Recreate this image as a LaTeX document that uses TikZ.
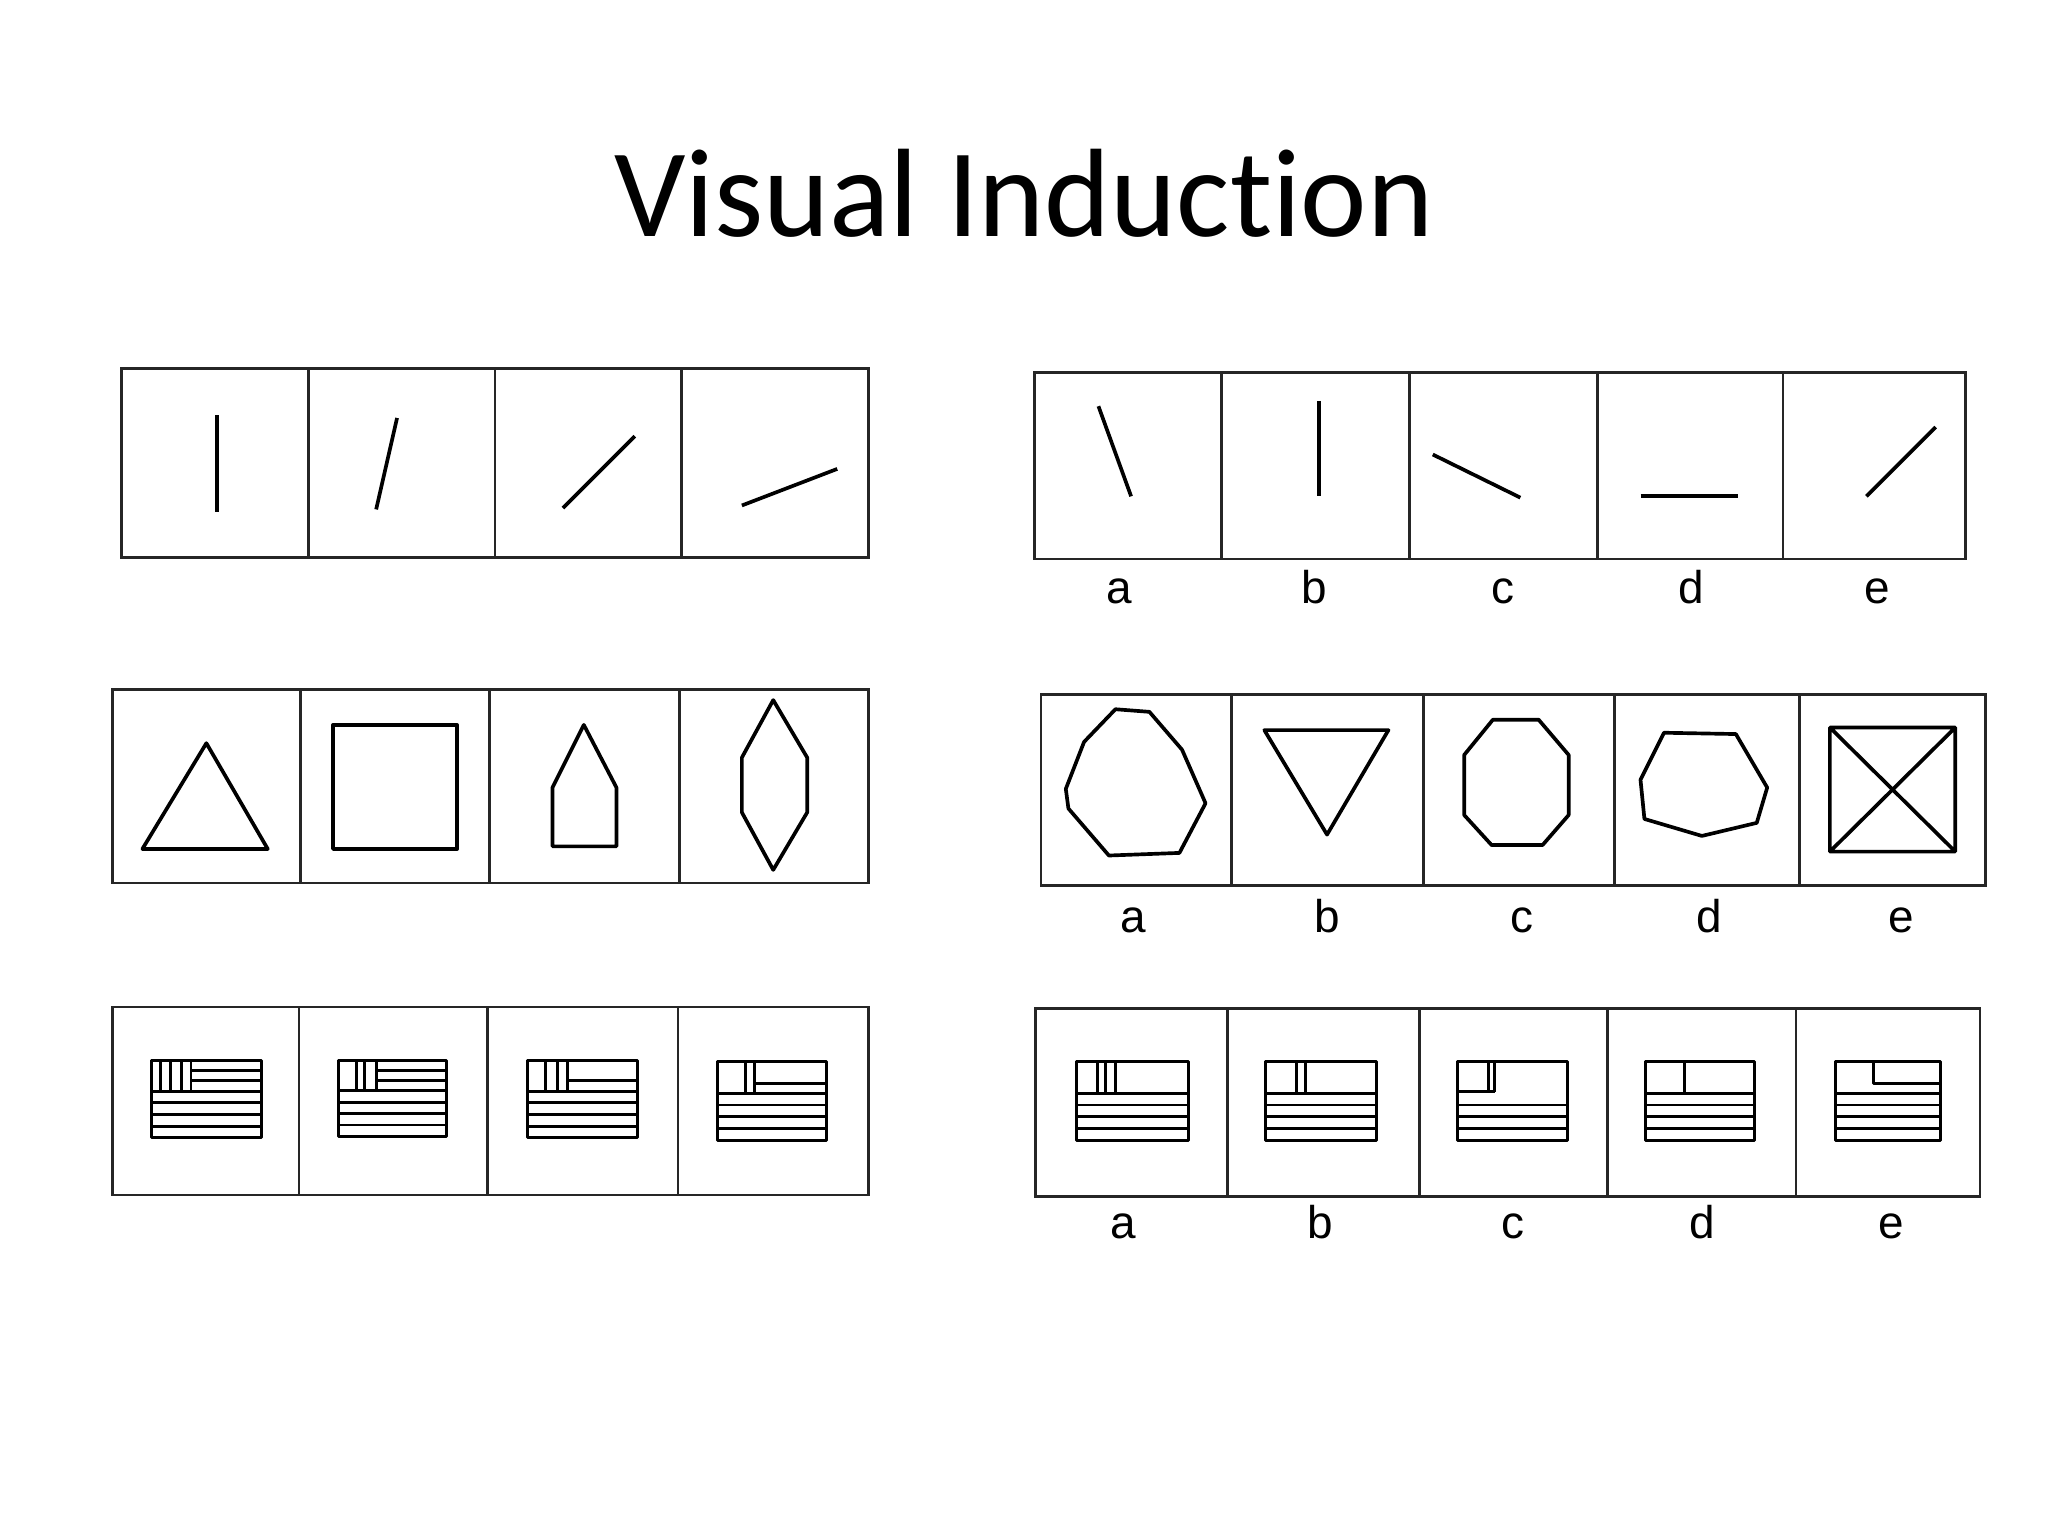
\documentclass[tikz,border=0pt]{standalone}
\usepackage{fontspec}
\setmainfont{Liberation Sans}
\newfontfamily\titlefont[Ligatures={NoCommon}]{Carlito}
\newcommand\flagfull[1]{\draw[fig] (0,0) rectangle (1,1);
  \foreach \yy in {#1} \draw[fig] (0,\yy) -- (1,\yy);}
\begin{document}
\begin{tikzpicture}[x=0.05cm,y=-0.05cm,
  frame/.style={line width=3pt,black!85},
  fig/.style={line width=4pt,line join=round,black},
  flagst/.style={fig/.append style={line width=3.2pt}},
  lbl/.style={anchor=base,font=\fontsize{50}{60}\selectfont}]
\useasboundingbox (0,0) rectangle (1568,1176);
\node[font=\titlefont\fontsize{137}{160}\selectfont] (title) at (784,148) {Visual Induction};
% Row 1 left
\draw[frame] (93,282) rectangle (665,427);
\foreach \d in {236,379,522} \draw[frame] (\d,282) -- (\d,427);
\draw[fig] (166,318) -- (166,392);
\draw[fig] (304,320) -- (288,390);
\draw[fig] (486,334) -- (431,389);
\draw[fig] (641,359) -- (568,387);
% Row 1 right
\draw[frame] (792,285) rectangle (1505,428);
\foreach \d in {935,1079,1223,1365} \draw[frame] (\d,285) -- (\d,428);
\draw[fig] (841,311) -- (866,380);
\draw[fig] (1010,307) -- (1010,380);
\draw[fig] (1097,348) -- (1164,381);
\draw[fig] (1256,380) -- (1331,380);
\draw[fig] (1482,327) -- (1429,380);
\foreach \x/\t in {857/a,1006/b,1151/c,1295/d,1437/e} \node[lbl] (l1\t) at (\x,462) {\t};
% Row 2 left
\draw[frame] (86,528) rectangle (665,676);
\foreach \d in {230,375,520} \draw[frame] (\d,528) -- (\d,676);
\draw[fig] (109,650) -- (158,569) -- (205,650) -- cycle;
\draw[fig] (255,555) rectangle (350,650);
\draw[fig] (423,648) -- (423,603) -- (447,555) -- (472,603) -- (472,648) -- cycle;
\draw[fig] (592,536) -- (618,580) -- (618,622) -- (592,666) -- (568,622) -- (568,580) -- cycle;
% Row 2 right
\draw[frame] (797,532) rectangle (1520,678);
\foreach \d in {943,1090,1236,1378} \draw[frame] (\d,532) -- (\d,678);
\draw[fig] (816,604) -- (830,568) -- (854,543) -- (880,545) -- (905,574) -- (923,615) -- (903,653) -- (849,655) -- (818,619) -- cycle;
\draw[fig] (968,559) -- (1063,559) -- (1016,639) -- cycle;
\draw[fig] (1143,551) -- (1178,551) -- (1201,578) -- (1201,624) -- (1181,647) -- (1142,647) -- (1121,624) -- (1121,578) -- cycle;
\draw[fig] (1274,561) -- (1329,562) -- (1353,603) -- (1345,630) -- (1303,640) -- (1259,627) -- (1256,597) -- cycle;
\draw[fig] (1401,557) rectangle (1497,652) (1401,557) -- (1497,652) (1497,557) -- (1401,652);
\foreach \x/\t in {868/a,1016/b,1165/c,1309/d,1456/e} \node[lbl] (l2\t) at (\x,714) {\t};
% Row 3 left
\draw[frame] (86,771) rectangle (665,915);
\foreach \d in {229,373,519} \draw[frame] (\d,771) -- (\d,915);
\begin{scope}[shift={(116,812)},x=4.2cm,y=-2.95cm,flagst]
\flagfull{0.40,0.55,0.70,0.85}
\foreach \v in {0.08,0.17,0.27,0.36} \draw[fig] (\v,0) -- (\v,0.40);
\foreach \s in {0.13,0.26} \draw[fig] (0.36,\s) -- (1,\s);
\end{scope}
\begin{scope}[shift={(259,812)},x=4.15cm,y=-2.9cm,flagst]
\flagfull{0.40,0.55,0.70,0.85}
\foreach \v in {0.17,0.24,0.35} \draw[fig] (\v,0) -- (\v,0.40);
\foreach \s in {0.13,0.26} \draw[fig] (0.35,\s) -- (1,\s);
\end{scope}
\begin{scope}[shift={(404,812)},x=4.2cm,y=-2.95cm,flagst]
\flagfull{0.40,0.55,0.70,0.85}
\foreach \v in {0.16,0.27,0.36} \draw[fig] (\v,0) -- (\v,0.40);
\draw[fig] (0.36,0.26) -- (1,0.26);
\end{scope}
\begin{scope}[shift={(549,813)},x=4.2cm,y=-3cm,flagst]
\flagfull{0.40,0.55,0.70,0.85}
\foreach \v in {0.26,0.34} \draw[fig] (\v,0) -- (\v,0.40);
\draw[fig] (0.34,0.28) -- (1,0.28);
\end{scope}
% Row 3 right
\draw[frame] (793,772) rectangle (1516,916);
\foreach \d in {940,1087,1231,1375} \draw[frame] (\d,772) -- (\d,916);
\begin{scope}[shift={(824,813)},x=4.3cm,y=-3cm,flagst]
\flagfull{0.40,0.55,0.70,0.85}
\foreach \v in {0.19,0.26,0.35} \draw[fig] (\v,0) -- (\v,0.40);
\end{scope}
\begin{scope}[shift={(969,813)},x=4.25cm,y=-3cm,flagst]
\flagfull{0.40,0.55,0.70,0.85}
\foreach \v in {0.28,0.36} \draw[fig] (\v,0) -- (\v,0.40);
\end{scope}
\begin{scope}[shift={(1116,813)},x=4.2cm,y=-3cm,flagst]
\flagfull{0.55,0.70,0.85}
\foreach \v in {0.28,0.34} \draw[fig] (\v,0) -- (\v,0.38);
\draw[fig] (0,0.38) -- (0.34,0.38);
\end{scope}
\begin{scope}[shift={(1260,813)},x=4.15cm,y=-3cm,flagst]
\flagfull{0.40,0.55,0.70,0.85}
\draw[fig] (0.36,0) -- (0.36,0.40);
\end{scope}
\begin{scope}[shift={(1405,813)},x=4.05cm,y=-3cm,flagst]
\flagfull{0.40,0.55,0.70,0.85}
\draw[fig] (0.36,0) -- (0.36,0.28) -- (1,0.28);
\end{scope}
\foreach \x/\t in {860/a,1011/b,1158/c,1303/d,1448/e} \node[lbl] (l3\t) at (\x,948) {\t};
\end{tikzpicture}
\end{document}
